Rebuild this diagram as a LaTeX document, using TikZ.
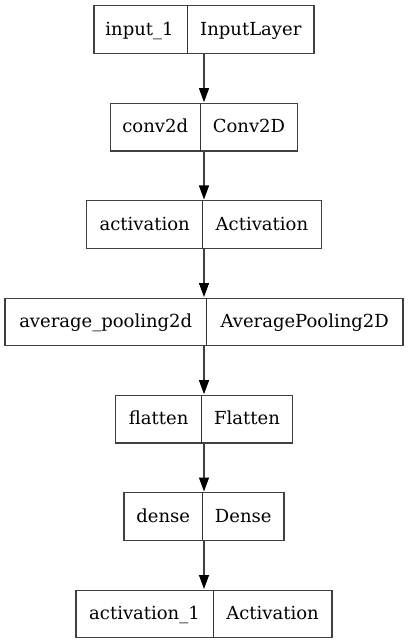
\documentclass[tikz,border=0pt]{standalone}
\usepackage{fontspec}
\setmainfont{DejaVu Serif}
\usetikzlibrary{arrows.meta}
\begin{document}
\begin{tikzpicture}[x=1pt,y=-1pt,
  layerbox/.style={draw=black!75,line width=1.2pt,rectangle,inner sep=0pt,minimum height=47.6pt},
  divider/.style={draw=black!80,line width=1.0pt},
  lbl/.style={anchor=base,inner sep=0pt,font=\fontsize{18}{22}\selectfont},
  conn/.style={draw=black!75,line width=1.2pt,-{Triangle[length=14pt,width=10pt,fill=black,color=black]},shorten >=0.6pt}]
\useasboundingbox (0,0) rectangle (408,644);
% layer boxes
\node[layerbox,minimum width=220pt] (L1) at (204,29.5) {};
\node[layerbox,minimum width=187.7pt] (L2) at (204,127.2) {};
\node[layerbox,minimum width=234.3pt] (L3) at (204,224.5) {};
\node[layerbox,minimum width=398pt] (L4) at (204,322) {};
\node[layerbox,minimum width=176.6pt] (L5) at (204,419.2) {};
\node[layerbox,minimum width=160pt] (L6) at (204,516.5) {};
\node[layerbox,minimum width=256pt] (L7) at (204,614) {};
% dividers
\draw[divider] (L1.north -| 187,0) -- (L1.south -| 187,0);
\draw[divider] (L2.north -| 200.3,0) -- (L2.south -| 200.3,0);
\draw[divider] (L3.north -| 202.7,0) -- (L3.south -| 202.7,0);
\draw[divider] (L4.north -| 206.7,0) -- (L4.south -| 206.7,0);
\draw[divider] (L5.north -| 201.7,0) -- (L5.south -| 201.7,0);
\draw[divider] (L6.north -| 202.7,0) -- (L6.south -| 202.7,0);
\draw[divider] (L7.north -| 213,0) -- (L7.south -| 213,0);
% labels
\node[lbl] (n1a) at (139.5,35.5) {input\_1};
\node[lbl] (n1b) at (250.8,35.5) {InputLayer};
\node[lbl] (n2a) at (155.2,132.7) {conv2d};
\node[lbl] (n2b) at (249.0,132.7) {Conv2D};
\node[lbl] (n3a) at (144.7,230.0) {activation};
\node[lbl] (n3b) at (261.9,230.0) {Activation};
\node[lbl] (n4a) at (105.7,327.5) {average\_pooling2d};
\node[lbl] (n4b) at (304.7,327.5) {AveragePooling2D};
\node[lbl] (n5a) at (158.7,424.7) {flatten};
\node[lbl] (n5b) at (247.0,424.7) {Flatten};
\node[lbl] (n6a) at (163.2,522.0) {dense};
\node[lbl] (n6b) at (243.2,522.0) {Dense};
\node[lbl] (n7a) at (144.5,619.5) {activation\_1};
\node[lbl] (n7b) at (272.5,619.5) {Activation};
% connectors
\draw[conn] (L1.south) -- (L2.north);
\draw[conn] (L2.south) -- (L3.north);
\draw[conn] (L3.south) -- (L4.north);
\draw[conn] (L4.south) -- (L5.north);
\draw[conn] (L5.south) -- (L6.north);
\draw[conn] (L6.south) -- (L7.north);
\end{tikzpicture}
\end{document}
